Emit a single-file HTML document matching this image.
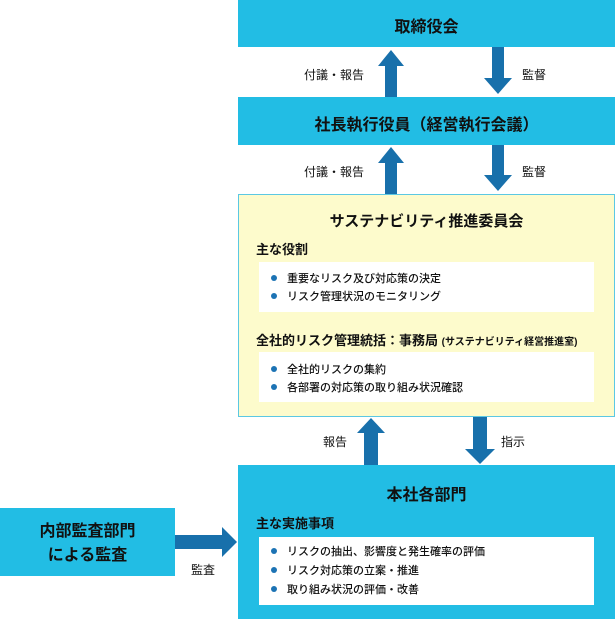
<!DOCTYPE html>
<html><head><meta charset="utf-8"><style>
body{margin:0;width:615px;height:619px;position:relative;background:#fff;font-family:"Liberation Sans","Noto Sans CJK JP",sans-serif;color:#111;overflow:hidden}
.b{position:absolute;background:#22bde4}
.t{position:absolute;font-weight:bold;text-align:center}
.a{position:absolute}
.w{position:absolute;background:#fff;left:259px;width:335px}
.li{position:absolute;left:14px;font-size:11px;white-space:nowrap;font-weight:500}
.li:before{content:"";position:absolute;left:-2px;top:5px;width:6px;height:6px;border-radius:50%;background:#1c73b4}
.li span{margin-left:14px}
.lb{position:absolute;font-size:12px;white-space:nowrap}
</style></head><body>
<div class="b" style="left:238px;top:0;width:377px;height:47px"></div>
<div class="t" style="left:238px;top:13px;width:377px;font-size:16px">取締役会</div>
<div class="b" style="left:238px;top:97px;width:377px;height:48px"></div>
<div class="t" style="left:238px;top:111px;width:377px;font-size:16px">社長執行役員（経営執行会議）</div>
<div style="position:absolute;left:238px;top:194px;width:375px;height:221px;background:#fdfbcc;border:1px solid #5bc8e3"></div>
<div class="t" style="left:238px;top:210px;width:377px;font-size:15px">サステナビリティ推進委員会</div>
<div class="lb" style="left:256px;top:239px;font-size:13px;font-weight:bold">主な役割</div>
<div class="w" style="top:262px;height:50px">
<div class="li" style="top:8px"><span>重要なリスク及び対応策の決定</span></div>
<div class="li" style="top:26px"><span>リスク管理状況のモニタリング</span></div></div>
<div class="lb" style="left:256px;top:330px;font-size:13px;font-weight:bold">全社的リスク管理統括：事務局 <span style="font-size:10px">(サステナビリティ経営推進室)</span></div>
<div class="w" style="top:352px;height:50px">
<div class="li" style="top:9px"><span>全社的リスクの集約</span></div>
<div class="li" style="top:27px"><span>各部署の対応策の取り組み状況確認</span></div></div>
<div class="b" style="left:238px;top:465px;width:377px;height:154px"></div>
<div class="t" style="left:238px;top:481px;width:377px;font-size:16px">本社各部門</div>
<div class="lb" style="left:256px;top:513px;font-size:13px;font-weight:bold">主な実施事項</div>
<div class="w" style="top:537px;height:68px">
<div class="li" style="top:6px"><span>リスクの抽出、影響度と発生確率の評価</span></div>
<div class="li" style="top:25px"><span>リスク対応策の立案・推進</span></div>
<div class="li" style="top:44px"><span>取り組み状況の評価・改善</span></div></div>
<div class="b" style="left:0;top:508px;width:175px;height:68px"></div>
<div class="t" style="left:0;top:520px;width:175px;font-size:16px;line-height:24px">内部監査部門<br>による監査</div>
<svg class="a" style="left:0;top:0" width="615" height="619">
<g fill="#1870ab">
<polygon points="385,97 385,66 378,66 391,50 404,66 397,66 397,97"/>
<polygon points="492,47 492,78 484,78 498,94 512,78 504,78 504,47"/>
<polygon points="385,194 385,163 378,163 391,147 404,163 397,163 397,194"/>
<polygon points="492,145 492,175 484,175 498,191 512,175 504,175 504,145"/>
<polygon points="364,465 364,433 357,433 371,418 385,433 378,433 378,465"/>
<polygon points="473,417 473,449 465,449 480,464 495,449 487,449 487,417"/>
<polygon points="175,535 222,535 222,527 237,542 222,557 222,549 175,549"/>
</g></svg>
<div class="lb" style="left:304px;top:66px">付議・報告</div>
<div class="lb" style="left:522px;top:66px">監督</div>
<div class="lb" style="left:304px;top:163px">付議・報告</div>
<div class="lb" style="left:522px;top:163px">監督</div>
<div class="lb" style="left:323px;top:433px">報告</div>
<div class="lb" style="left:501px;top:433px">指示</div>
<div class="lb" style="left:191px;top:561px">監査</div>
</body></html>
